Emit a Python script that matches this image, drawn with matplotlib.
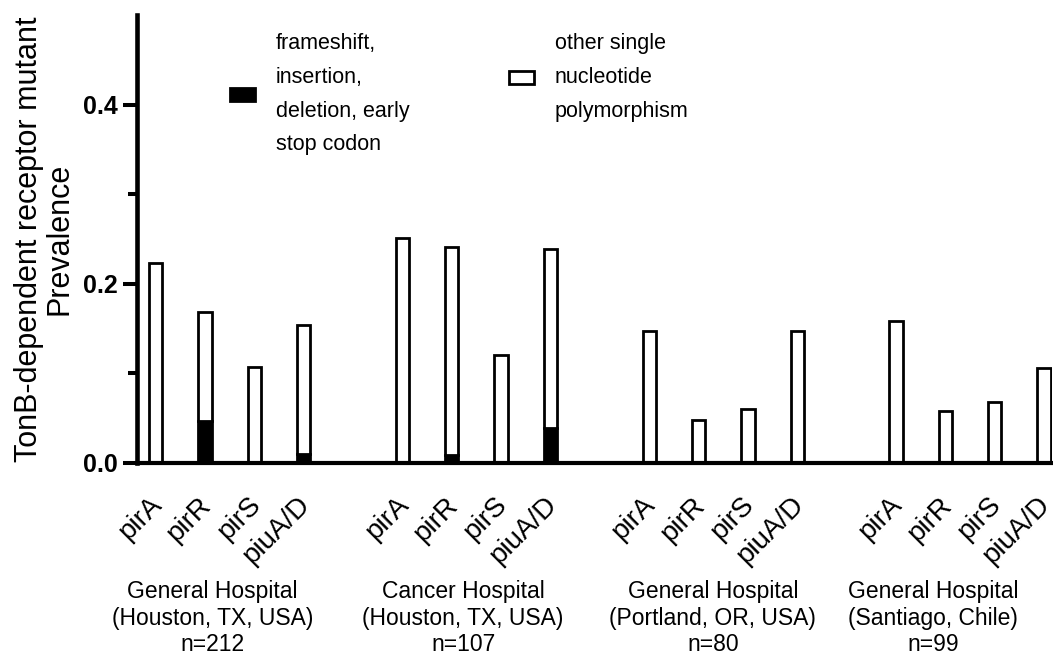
import matplotlib
matplotlib.use('Agg')
import matplotlib.pyplot as plt
import matplotlib.transforms as mtransforms
from matplotlib import font_manager


genes = ['pirA', 'pirR', 'pirS', 'piuA/D']
sites = ['General Hospital\n(Houston, TX, USA)\nn=212',
         'Cancer Hospital\n(Houston, TX, USA)\nn=107',
         'General Hospital\n(Portland, OR, USA)\nn=80',
         'General Hospital\n(Santiago, Chile)\nn=99']

# prevalence, one list per hospital (pirA, pirR, pirS, piuA/D)
frameshift = [[0.0, 0.047, 0.0, 0.0095],
              [0.0, 0.0086, 0.0, 0.039],
              [0.0, 0.0, 0.0, 0.0],
              [0.0, 0.0, 0.0, 0.0]]
snp = [[0.2235, 0.121, 0.1067, 0.145],
       [0.2512, 0.2327, 0.120, 0.200],
       [0.147, 0.0476, 0.060, 0.147],
       [0.159, 0.0577, 0.0678, 0.1055]]

label_frame = 'frameshift,\ninsertion,\ndeletion, early\nstop codon'
label_snp = 'other single\nnucleotide\npolymorphism'

site_label_x = [1.15, 6.23, 11.29, 15.75]


#--------------------------------------

names = {f.name for f in font_manager.fontManager.ttflist}
if 'Liberation Sans Narrow' in names:
    leg_family, leg_size = 'Liberation Sans Narrow', 18
else:
    leg_family, leg_size = 'Liberation Sans', 15.5

plt.rcParams['font.family'] = ['Liberation Sans', 'DejaVu Sans']

fig = plt.figure(figsize=(10.53, 6.56), dpi=100)
ax = fig.add_axes([137 / 1053, 1 - 463 / 656, 915 / 1053, 448 / 656])

xpos, fs_vals, snp_vals, ticklabels = [], [], [], []
for g in range(len(sites)):
    for i, gene in enumerate(genes):
        xpos.append(g * 5 + i)
        fs_vals.append(frameshift[g][i])
        snp_vals.append(snp[g][i])
        ticklabels.append(gene)

bw = 0.27
b1 = ax.bar(xpos, fs_vals, width=bw, color='black', edgecolor='black', linewidth=2)
b2 = ax.bar(xpos, snp_vals, width=bw, bottom=fs_vals, color='white',
            edgecolor='black', linewidth=2)

ax.set_xlim(-0.375, 18.16)
ax.set_ylim(0, 0.5)

for s in ['top', 'right']:
    ax.spines[s].set_visible(False)
ax.spines['left'].set_linewidth(3.3)
ax.spines['bottom'].set_linewidth(3.0)

ax.set_yticks([0.0, 0.2, 0.4])
ax.set_yticklabels(['0.0', '0.2', '0.4'], fontsize=18, fontweight='bold')
ax.set_yticks([0.1, 0.3], minor=True)
ax.tick_params(axis='y', which='major', length=10.4, width=2.9, pad=3.6)
ax.tick_params(axis='y', which='minor', length=6.8, width=2.9)

ax.set_xticks(xpos)
ax.set_xticklabels(ticklabels, rotation=45, ha='right', va='top',
                   rotation_mode='anchor', fontsize=20)
ax.tick_params(axis='x', length=0, pad=21)
shift = mtransforms.ScaledTranslation(-7 / 100, 0, fig.dpi_scale_trans)
for lab in ax.get_xticklabels():
    lab.set_transform(lab.get_transform() + shift)

ax.set_ylabel('TonB-dependent receptor mutant\nPrevalence', fontsize=22,
              linespacing=1.05)
ax.yaxis.set_label_coords(-0.068, 0.5)

for x, txt in zip(site_label_x, sites):
    ax.text(x, -0.346, txt, transform=ax.get_xaxis_transform(), ha='center',
            va='center', fontsize=16.5, linespacing=1.17)

leg_props = {'family': leg_family, 'size': leg_size}
leg1 = ax.legend([b1], [label_frame], loc='upper left', frameon=False,
                 bbox_to_anchor=(230 / 1053, 1 - 33 / 656),
                 bbox_transform=fig.transFigure, prop=leg_props,
                 borderpad=0, borderaxespad=0, handlelength=1.15,
                 handleheight=0.56, handletextpad=0.98)
for t in leg1.get_texts():
    t.set_linespacing(1.8)
ax.add_artist(leg1)
leg2 = ax.legend([b2], [label_snp], loc='upper left', frameon=False,
                 bbox_to_anchor=(509 / 1053, 1 - 33 / 656),
                 bbox_transform=fig.transFigure, prop=leg_props,
                 borderpad=0, borderaxespad=0, handlelength=1.15,
                 handleheight=0.56, handletextpad=0.98)
for t in leg2.get_texts():
    t.set_linespacing(1.8)

plt.savefig('out.png', dpi=100)
